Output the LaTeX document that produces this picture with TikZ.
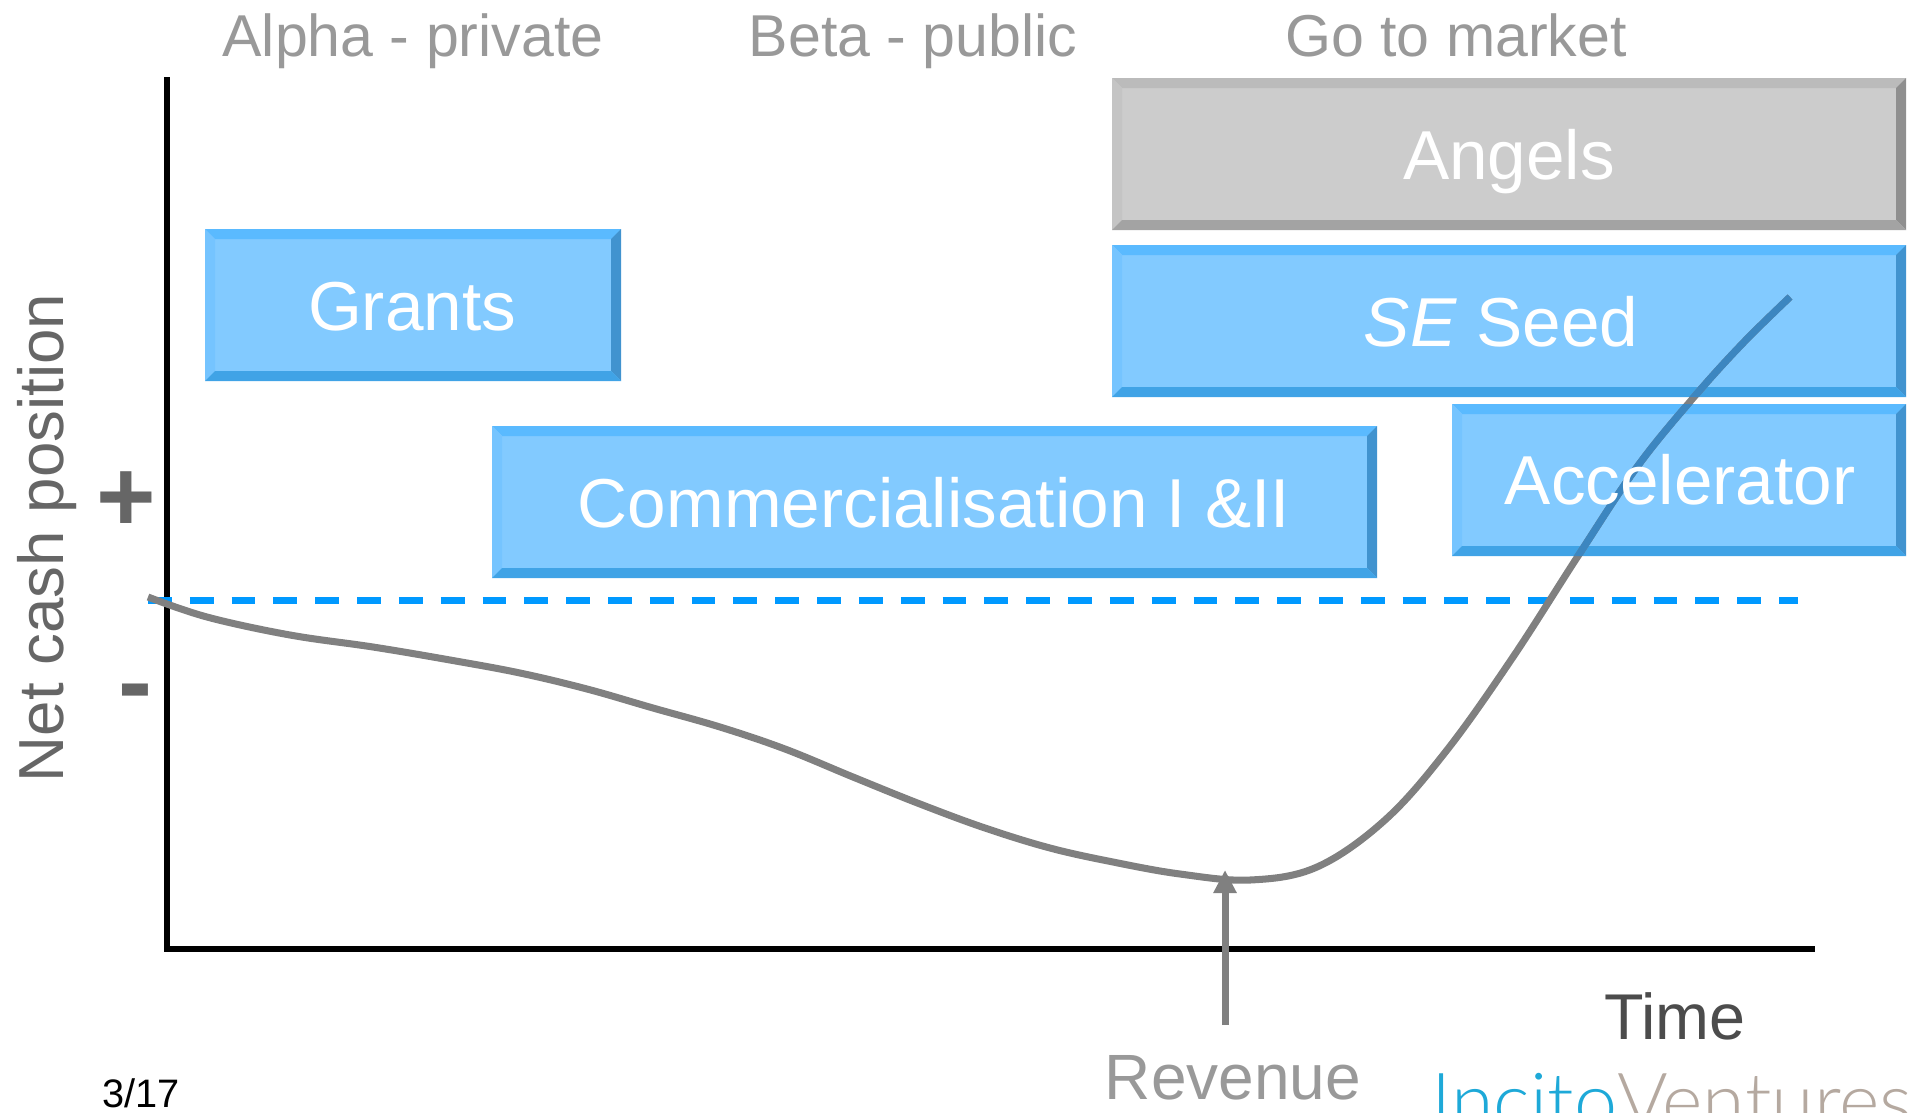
\documentclass[tikz,border=0pt]{standalone}
\usepackage{fontspec}
\setmainfont{Liberation Sans}
\newfontfamily\logofont{Lato Light}
\usetikzlibrary{arrows.meta}

\definecolor{boxface}{HTML}{82CAFF}
\definecolor{boxtop}{HTML}{5ABAFF}
\definecolor{boxleft}{HTML}{75C4FF}
\definecolor{boxright}{HTML}{4193CF}
\definecolor{boxbottom}{HTML}{40A3E6}
\definecolor{greyface}{HTML}{CCCCCC}
\definecolor{greytop}{HTML}{BBBBBB}
\definecolor{greyleft}{HTML}{C4C4C4}
\definecolor{greyright}{HTML}{8F8F8F}
\definecolor{greybottom}{HTML}{A3A3A3}
\definecolor{cashline}{HTML}{808080}
\definecolor{cashtint}{HTML}{3C86C0}
\definecolor{zeroline}{HTML}{0099FF}
\definecolor{phasegrey}{HTML}{999999}

% bevelled box: left, top, right, bottom, colour prefix
\newcommand{\bevelbox}[5]{
  \fill[#5face] (#1, #2) rectangle (#3, #4);
  \fill[#5top] (#1, #2) -- (#3, #2) -- (#3 - 10, #2 + 10) -- (#1 + 10, #2 + 10) -- cycle;
  \fill[#5left] (#1, #2) -- (#1 + 10, #2 + 10) -- (#1 + 10, #4 - 10) -- (#1, #4) -- cycle;
  \fill[#5right] (#3, #2) -- (#3 - 10, #2 + 10) -- (#3 - 10, #4 - 10) -- (#3, #4) -- cycle;
  \fill[#5bottom] (#1, #4) -- (#1 + 10, #4 - 10) -- (#3 - 10, #4 - 10) -- (#3, #4) -- cycle;
}
\newcommand{\cashcurve}{
  plot[smooth, tension=0.6] coordinates {
    (148, 597) (207, 617) (290, 635) (373, 647) (450, 660) (520, 673) (587, 689)
    (653, 708) (720, 727) (785, 749) (853, 777) (920, 804) (985, 828) (1050, 848)
    (1113, 862) (1180, 874) (1250, 880) (1317, 867) (1385, 820) (1447, 750)
    (1513, 657) (1578, 556) (1637, 467) (1694, 397) (1743, 343) (1790, 297)
  }
}

\tikzset{
  boxlabel/.style={anchor=base, text=white, font=\fontsize{19.7}{24}\selectfont},
  phaselabel/.style={anchor=base, text=phasegrey, font=\fontsize{16.8}{20}\selectfont},
  axislabel/.style={anchor=base, text=black!60, font=\fontsize{18.1}{22}\selectfont},
  signlabel/.style={anchor=center, text=black!60, font=\fontsize{29}{34}\selectfont\bfseries},
}

\begin{document}
\begin{tikzpicture}[x=0.01cm, y=-0.01cm, line width=1pt]
    \clip (0, 0) rectangle (1910, 1112);
    \useasboundingbox (0, 0) rectangle (1910, 1112);

    % draw phase labels
    \node[phaselabel] (alpha) at (413, 57) {Alpha - private};
    \node[phaselabel] (beta) at (913, 57) {Beta - public};
    \node[phaselabel] (market) at (1456, 57) {Go to market};

    % draw funding boxes
    \bevelbox{1112}{78}{1906}{230}{grey}
    \bevelbox{1112}{245}{1906}{397}{box}
    \bevelbox{1452}{404}{1906}{556}{box}
    \bevelbox{492}{426}{1377}{578}{box}
    \bevelbox{205}{229}{621}{381}{box}

    % draw axes and zero line
    \coordinate (origin) at (167, 949);
    \coordinate (ytop) at (167, 77);
    \coordinate (xend) at (1815, 949);
    \coordinate (zerostart) at (148, 600.5);
    \coordinate (zeroend) at (1798, 600.5);
    \draw[color=black, line width=1.8pt] (ytop) -- (origin) -- (xend);
    \draw[color=zeroline, line width=1.85pt, dash pattern=on 23.8 * 0.2845pt off 18 * 0.2845pt] (zerostart) -- (zeroend);

    % draw cash curve, darker where it crosses the boxes
    \draw[color=cashline, line width=2pt] \cashcurve;
    \begin{scope}
      \clip (1112, 245) rectangle (1906, 397) (1452, 404) rectangle (1906, 556);
      \draw[color=cashtint, line width=2pt] \cashcurve;
    \end{scope}

    % draw box labels
    \node[boxlabel] (angels) at (1509, 179) {Angels};
    \node[boxlabel] (seed) at (1501, 346) {\textit{SE} Seed};
    \node[boxlabel] (accelerator) at (1680, 504) {Accelerator};
    \node[boxlabel] (commercial) at (934, 527) {Commercialisation I \&II};
    \node[boxlabel] (grants) at (412, 330) {Grants};

    % draw axis labels
    \node[axislabel, rotate=90] (netcash) at (63, 538) {Net cash position};
    \node[signlabel] (plus) at (126, 502) {+};
    \node[signlabel] (minus) at (135, 700) {-};
    \node[anchor=base, text=black!70, font=\fontsize{18.4}{22}\selectfont] (time) at (1675, 1039) {Time};

    % draw revenue arrow
    \node[phaselabel, font=\fontsize{18.2}{22}\selectfont] (revenue) at (1233, 1099) {Revenue};
    \coordinate (revtail) at (1225, 1025);
    \coordinate (revtip) at (1225, 870);
    \draw[-{Triangle[length=0.23cm, width=0.22cm]}, color=cashline, line width=2pt] (revtail) -- (revtip);

    % draw footer
    \node[anchor=base west, inner sep=0pt, text=black, font=\fontsize{11.3}{13}\selectfont] (page) at (101, 1107) {3/17};
    \node[anchor=base west, inner sep=0pt, font=\fontsize{22}{26}\logofont] (logo) at (1430, 1128) {\textcolor[HTML]{1EA9D8}{Incito}\textcolor[HTML]{B5A9A0}{Ventures}};
\end{tikzpicture}
\end{document}
